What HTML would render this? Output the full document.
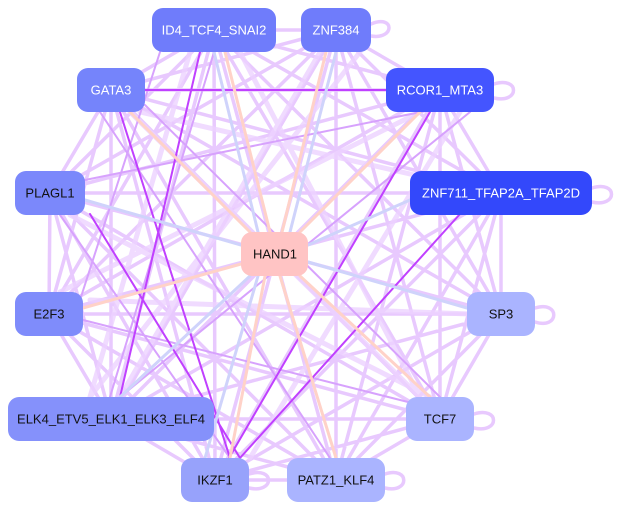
<!DOCTYPE html>
<html><head><meta charset="utf-8"><style>
html,body{margin:0;padding:0;background:#fff;width:622px;height:509px;overflow:hidden}
svg{display:block}
text{font-family:"Liberation Sans",sans-serif;font-size:13px;text-anchor:middle;dominant-baseline:central}
</style></head><body>
<svg width="622" height="509" viewBox="0 0 622 509" xmlns="http://www.w3.org/2000/svg">
<g fill="none" stroke="#e8c9fe" stroke-width="3.5" stroke-linecap="round">
<path d="M214 30L336 30M214 30L111 90M214 30L440 90M214 30L50 193M214 30L501 193M214 30L49 314M214 30L501 314M214 30L111 419M214 30L440 419M214 30L215 480M214 30L336 480
M336 30L111 90M336 30L440 90M336 30L50 193M336 30L501 193M336 30L49 314M336 30L501 314M336 30L111 419M336 30L440 419M336 30L215 480M336 30L336 480
M111 90L440 90M111 90L50 193M111 90L501 193M111 90L49 314M111 90L501 314M111 90L111 419M111 90L440 419M111 90L215 480M111 90L336 480
M440 90L50 193M440 90L501 193M440 90L49 314M440 90L501 314M440 90L111 419M440 90L440 419M440 90L215 480M440 90L336 480
M50 193L501 193M50 193L49 314M50 193L501 314M50 193L111 419M50 193L440 419M50 193L215 480M50 193L336 480
M501 193L49 314M501 193L501 314M501 193L111 419M501 193L440 419M501 193L215 480M501 193L336 480
M49 314L501 314M49 314L111 419M49 314L440 419M49 314L215 480M49 314L336 480
M501 314L111 419M501 314L440 419M501 314L215 480M501 314L336 480
M111 419L440 419M111 419L215 480M111 419L336 480
M440 419L215 480M440 419L336 480M215 480L336 480"/>
<path stroke-width="5" stroke="#ecd2ff" opacity="0.8" d="M190 52L90 397M240 52L420 397M130 112L420 397M360 52L90 397M420 112L60 292M70 215L430 397M90 300L470 314M140 112L480 190M320 52L120 397M460 112L250 458"/>
<path d="M371 24C395 14 395 40 371 36M494 84C520 76 520 104 494 98M592 188C618 180 618 208 592 202M535 308C560 300 560 330 535 322M474 414C500 406 500 434 474 428M385 474C410 466 410 494 385 488M249 474C275 466 275 494 249 488"/>
</g>
<g fill="none" stroke-width="2" stroke-linecap="round">
<path stroke="#d7a2fd" d="M214 52L110 397M145 105L440 397M60 215L230 458M100 112L330 458M470 112L120 397M85 180L480 100M83 320L420 405M160 52L80 300"/>
<path stroke="#c040ff" d="M145 90L386 90M229 458L430 112M240 458L460 214M120 112L230 458M200 52L120 397M90 214L240 458"/>
<path stroke="#ffd2c8" stroke-width="3" d="M225 52L270 232M326 52L282 232M130 112L250 232M420 112L300 232M83 308L241 264M430 397L300 276M230 458L265 276M336 458L280 276"/>
<path stroke="#cfd3fb" stroke-width="3" d="M214 52L258 232M336 52L290 232M85 200L241 245M410 200L308 245M467 308L308 262M205 458L258 276M120 397L250 276"/>
</g>
<g stroke="none">
<rect x="152" y="8" width="124" height="44" rx="11" fill="#6f7cfb"/>
<rect x="301" y="8" width="70" height="44" rx="11" fill="#6f7cfb"/>
<rect x="77" y="68" width="68" height="44" rx="11" fill="#7584fb"/>
<rect x="386" y="68" width="108" height="44" rx="11" fill="#4455ff"/>
<rect x="15" y="171" width="70" height="44" rx="11" fill="#7b88fb"/>
<rect x="410" y="171" width="182" height="44" rx="11" fill="#3348fb"/>
<rect x="241" y="232" width="67" height="44" rx="11" fill="#ffc4c4"/>
<rect x="15" y="292" width="68" height="44" rx="11" fill="#7f8cfb"/>
<rect x="467" y="292" width="68" height="44" rx="11" fill="#aab4ff"/>
<rect x="8" y="397" width="206" height="44" rx="11" fill="#8591fb"/>
<rect x="406" y="397" width="68" height="44" rx="11" fill="#aab4ff"/>
<rect x="181" y="458" width="68" height="44" rx="11" fill="#97a2fb"/>
<rect x="287" y="458" width="98" height="44" rx="11" fill="#aab4ff"/>
</g>
<g fill="#fff">
<text x="214" y="30">ID4_TCF4_SNAI2</text>
<text x="336" y="30">ZNF384</text>
<text x="111" y="90">GATA3</text>
<text x="440" y="90">RCOR1_MTA3</text>
<text x="501" y="193">ZNF711_TFAP2A_TFAP2D</text>
</g>
<g fill="#111">
<text x="50" y="193">PLAGL1</text>
<text x="275" y="254">HAND1</text>
<text x="49" y="314">E2F3</text>
<text x="501" y="314">SP3</text>
<text x="111" y="419">ELK4_ETV5_ELK1_ELK3_ELF4</text>
<text x="440" y="419">TCF7</text>
<text x="215" y="480">IKZF1</text>
<text x="336" y="480">PATZ1_KLF4</text>
</g>
</svg>
</body></html>
